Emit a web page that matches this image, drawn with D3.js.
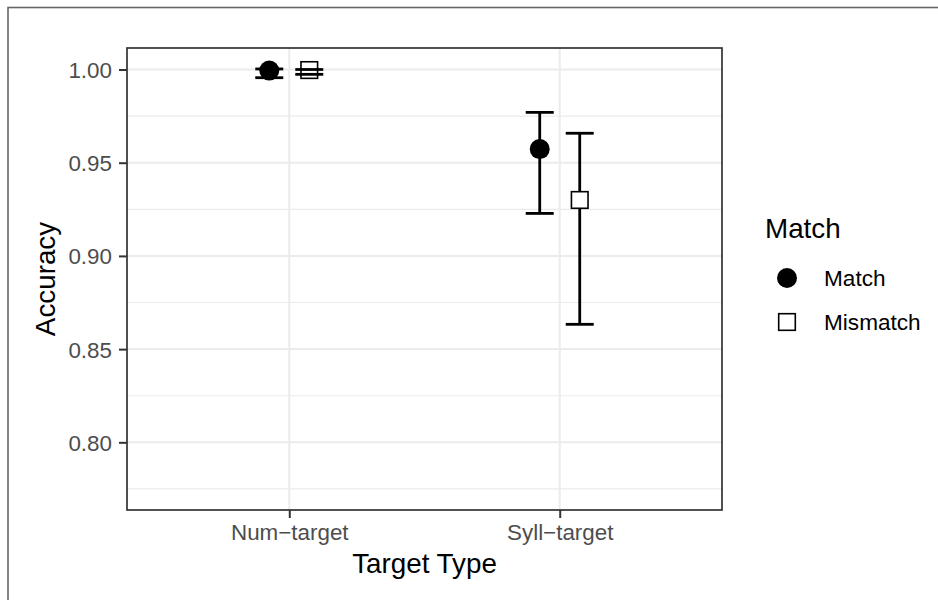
<!DOCTYPE html>
<html>
<head>
<meta charset="utf-8">
<script src="https://cdn.jsdelivr.net/npm/d3@7"></script>
<style>
  body { margin: 0; background: #fff; }
  text { font-family: "Liberation Sans", Arial, sans-serif; }
</style>
</head>
<body>
<svg id="chart" width="938" height="600"></svg>
<script>
const targetTypes = ['Num\u2212target', 'Syll\u2212target'];
const matchLevels = ['Match', 'Mismatch'];

// accuracy means and error bar limits, one value per target type
const matchMean = [0.9994, 0.9573];
const matchLower = [0.9956, 0.9228];
const matchUpper = [1.0003, 0.977];
const mismatchMean = [0.9997, 0.93];
const mismatchLower = [0.9974, 0.8633];
const mismatchUpper = [1.0, 0.9658];

const yTicks = [0.8, 0.85, 0.9, 0.95, 1.0];
const yMinor = [0.775, 0.825, 0.875, 0.925, 0.975];

const rows = [];
targetTypes.forEach((t, i) => {
	rows.push({ type: t, match: 'Match', mean: matchMean[i], lo: matchLower[i], hi: matchUpper[i] });
	rows.push({ type: t, match: 'Mismatch', mean: mismatchMean[i], lo: mismatchLower[i], hi: mismatchUpper[i] });
});

const svg = d3.select('#chart');
const panel = { left: 127, right: 722, top: 48, bottom: 510 };

const x = d3.scalePoint().domain(targetTypes).range([panel.left, panel.right]).padding(0.6);
const dodge = d3.scalePoint().domain(matchLevels).range([-20, 20]);
const y = d3.scaleLinear().domain([0.7637, 1.01153]).range([panel.bottom, panel.top]);

// outer border
svg.append('rect')
	.attr('x', 8).attr('y', 7.5)
	.attr('width', 960).attr('height', 620)
	.attr('fill', 'none')
	.attr('stroke', '#666')
	.attr('stroke-width', 1.6);

// grid
const grid = svg.append('g');
grid.selectAll('.minor')
	.data(yMinor)
	.enter()
	.append('line')
	.attr('x1', panel.left).attr('x2', panel.right)
	.attr('y1', (d) => y(d)).attr('y2', (d) => y(d))
	.attr('stroke', '#ebebeb')
	.attr('stroke-width', 1.2);
grid.selectAll('.major')
	.data(yTicks)
	.enter()
	.append('line')
	.attr('x1', panel.left).attr('x2', panel.right)
	.attr('y1', (d) => y(d)).attr('y2', (d) => y(d))
	.attr('stroke', '#ebebeb')
	.attr('stroke-width', 2);
grid.selectAll('.vmajor')
	.data(targetTypes)
	.enter()
	.append('line')
	.attr('x1', (d) => x(d)).attr('x2', (d) => x(d))
	.attr('y1', panel.top).attr('y2', panel.bottom)
	.attr('stroke', '#ebebeb')
	.attr('stroke-width', 2);

// error bars: vertical part, then points, then caps
const capHalf = 14;
const cx = (d) => x(d.type) + dodge(d.match);

svg.append('g').selectAll('line')
	.data(rows)
	.enter()
	.append('line')
	.attr('x1', cx).attr('x2', cx)
	.attr('y1', (d) => y(d.lo)).attr('y2', (d) => y(d.hi))
	.attr('stroke', '#000')
	.attr('stroke-width', 2.8);

const pts = svg.append('g');
pts.selectAll('circle')
	.data(rows.filter((d) => d.match === 'Match'))
	.enter()
	.append('circle')
	.attr('cx', cx)
	.attr('cy', (d) => y(d.mean))
	.attr('r', 10)
	.attr('fill', '#000');
pts.selectAll('rect')
	.data(rows.filter((d) => d.match === 'Mismatch'))
	.enter()
	.append('rect')
	.attr('x', (d) => cx(d) - 8.3)
	.attr('y', (d) => y(d.mean) - 8.3)
	.attr('width', 16.6).attr('height', 16.6)
	.attr('fill', '#fff')
	.attr('stroke', '#000')
	.attr('stroke-width', 1.6);

const caps = svg.append('g');
['lo', 'hi'].forEach((k) => {
	caps.selectAll('.cap-' + k)
		.data(rows)
		.enter()
		.append('line')
		.attr('x1', (d) => cx(d) - capHalf).attr('x2', (d) => cx(d) + capHalf)
		.attr('y1', (d) => y(d[k])).attr('y2', (d) => y(d[k]))
		.attr('stroke', '#000')
		.attr('stroke-width', 2.8);
});

// panel border
svg.append('rect')
	.attr('x', panel.left).attr('y', panel.top)
	.attr('width', panel.right - panel.left)
	.attr('height', panel.bottom - panel.top)
	.attr('fill', 'none')
	.attr('stroke', '#333')
	.attr('stroke-width', 1.7);

// axes
const yAxis = svg.append('g')
	.attr('transform', `translate(${panel.left},0)`)
	.call(d3.axisLeft(y).tickValues(yTicks).tickFormat(d3.format('.2f')).tickSize(8).tickPadding(7));
const xAxis = svg.append('g')
	.attr('transform', `translate(0,${panel.bottom})`)
	.call(d3.axisBottom(x).tickSize(8).tickPadding(7));

[yAxis, xAxis].forEach((a) => {
	a.select('.domain').remove();
	a.selectAll('.tick line').attr('stroke', '#333').attr('stroke-width', 2);
	a.selectAll('.tick text')
		.attr('fill', '#4d4d4d')
		.style('font-size', '22.4px')
		.style('font-family', '"Liberation Sans", Arial, sans-serif');
});
xAxis.selectAll('.tick text').attr('dy', null).attr('y', 29.5);
yAxis.selectAll('.tick text').attr('dy', '0.36em');

svg.append('text')
	.attr('x', (panel.left + panel.right) / 2)
	.attr('y', 573)
	.attr('text-anchor', 'middle')
	.style('font-size', '27.8px')
	.text('Target Type');

svg.append('text')
	.attr('transform', `translate(55,${(panel.top + panel.bottom) / 2}) rotate(-90)`)
	.attr('text-anchor', 'middle')
	.style('font-size', '27.8px')
	.text('Accuracy');

// legend
const legend = svg.append('g');
legend.append('text')
	.attr('x', 765).attr('y', 238)
	.style('font-size', '27.8px')
	.text('Match');

const keyY = d3.scalePoint().domain(matchLevels).range([278, 322]);
legend.append('circle')
	.attr('cx', 787).attr('cy', keyY('Match'))
	.attr('r', 10)
	.attr('fill', '#000');
legend.append('rect')
	.attr('x', 787 - 8.3).attr('y', keyY('Mismatch') - 8.3)
	.attr('width', 16.6).attr('height', 16.6)
	.attr('fill', '#fff')
	.attr('stroke', '#000')
	.attr('stroke-width', 1.6);
legend.selectAll('.lab')
	.data(matchLevels)
	.enter()
	.append('text')
	.attr('x', 824)
	.attr('y', (d) => keyY(d) + 8)
	.style('font-size', '22.6px')
	.text((d) => d);
</script>
</body>
</html>
